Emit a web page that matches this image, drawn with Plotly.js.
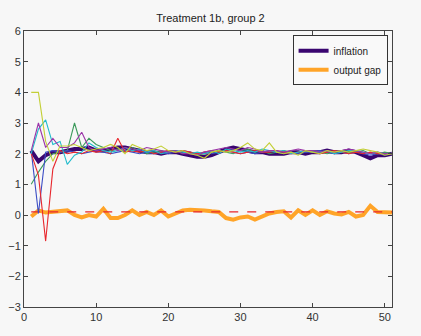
<!DOCTYPE html>
<html>
<head>
<meta charset="utf-8">
<script src="https://cdn.plot.ly/plotly-3.0.1.min.js"></script>
<style>html,body{margin:0;padding:0;background:#f7f7f7;}#chart{width:421px;height:336px;}</style>
</head>
<body>
<div id="chart"></div>
<script>
const periods = Array.from({length: 51}, (_, i) => i + 1);

const inflation = [2.1,1.75,1.95,2.05,2.05,2.1,2.15,2.15,2.2,2.1,2.1,2.15,2.2,2.2,2.15,2.1,2.05,2.05,2.0,2.05,2.05,2.0,1.95,1.9,1.9,1.95,2.05,2.15,2.2,2.15,2.1,2.05,2.05,2.0,2.0,2.0,2.05,2.05,2.0,2.05,2.05,2.1,2.05,2.05,2.1,2.05,1.95,1.85,1.95,1.95,2.0];
const outputGap = [-0.05,0.15,0.08,0.1,0.12,0.15,0.0,-0.08,0.0,-0.05,0.2,-0.1,-0.1,0.0,0.15,0.0,0.1,0.0,0.15,-0.05,0.05,0.15,0.17,0.17,0.15,0.12,0.1,-0.1,-0.15,-0.08,-0.05,-0.15,-0.05,0.05,0.1,0.12,-0.08,0.15,0.0,0.15,0.0,0.12,0.05,0.02,0.1,-0.05,0.0,0.3,0.1,0.08,0.08];

const fcYellow = [4.0,4.0,2.4,1.75,2.25,2.25,2.3,2.2,2.1,2.15,2.2,2.3,2.2,2.0,2.3,2.2,2.1,2.15,2.25,2.1,2.05,2.1,2.0,1.95,1.85,2.05,2.1,2.05,2.1,2.2,2.35,2.15,2.1,2.35,2.05,2.0,2.05,1.95,2.1,2.05,2.0,2.1,2.05,2.1,2.05,2.1,2.15,2.1,2.05,1.95,2.0];
const fcCyan = [2.0,2.8,3.1,2.3,2.4,1.65,1.95,2.05,2.35,2.2,2.1,2.05,2.1,2.2,2.1,2.15,2.05,2.1,2.0,2.05,2.1,2.05,2.0,2.05,2.0,2.1,2.0,2.15,2.1,2.05,2.1,2.05,2.15,2.1,2.05,2.1,2.0,2.05,2.1,2.05,2.05,2.1,2.0,2.05,2.1,2.1,2.05,2.0,2.05,2.0,2.0];
const fcPurple = [2.1,3.0,2.2,2.5,2.2,2.2,2.35,2.7,2.2,2.1,2.15,2.2,2.1,2.2,2.15,2.1,2.2,2.15,2.1,2.05,2.1,2.0,2.0,1.95,2.05,2.1,2.15,2.2,2.15,2.1,2.2,2.15,2.05,2.1,2.1,2.05,2.1,2.15,2.1,2.1,2.05,2.1,2.05,2.1,2.15,2.1,2.05,2.0,2.05,2.0,2.0];
const fcGreen = [1.0,1.4,1.75,2.0,2.05,2.1,3.0,2.2,2.5,2.3,2.2,2.1,2.15,2.05,2.2,2.1,2.0,2.05,2.1,2.05,2.1,2.0,2.05,1.95,2.0,2.05,2.1,2.05,2.0,2.1,2.15,2.05,2.1,2.0,2.05,2.1,2.05,2.0,2.05,2.1,2.05,2.0,2.05,2.1,2.05,2.05,2.1,2.0,2.0,2.05,2.0];
const fcRed = [2.0,1.3,-0.85,1.5,2.1,2.0,2.05,2.0,2.1,2.05,2.1,2.0,2.5,2.05,2.1,2.05,2.1,2.0,2.05,2.1,2.05,2.1,2.05,2.0,2.05,2.1,2.05,2.1,2.05,2.0,2.05,2.1,2.05,2.05,2.1,2.05,2.0,2.05,2.1,2.05,2.0,2.05,2.1,2.05,2.0,2.05,2.0,2.05,2.0,2.0,2.0];
const fcBlue = [2.1,0.05,2.05,2.1,2.05,2.1,2.05,2.0,2.05,2.1,2.05,2.0,2.05,2.1,2.05,2.0,2.05,2.0,2.05,2.0,2.05,2.1,2.05,2.0,2.05,2.0,2.05,2.1,2.05,2.0,2.05,2.0,2.05,2.1,2.05,2.0,2.05,2.0,2.05,2.05,2.1,2.05,2.0,2.05,2.0,2.05,2.0,1.95,2.0,1.95,2.0];

const refX = [1, 51];
const refY = [0.1, 0.1];

const xTicks = [0, 10, 20, 30, 40, 50];
const yTicks = [-3, -2, -1, 0, 1, 2, 3, 4, 5, 6];

const thin = [
  {y: fcGreen, c: '#3c9a5c'},
  {y: fcBlue, c: '#3b4cc4'},
  {y: fcRed, c: '#e8272d'},
  {y: fcCyan, c: '#22bccc'},
  {y: fcPurple, c: '#9b35a8'},
  {y: fcYellow, c: '#c3cf36'}
];

const traces = [
  {x: periods, y: inflation, mode: 'lines', name: 'inflation', line: {color: '#3a0670', width: 4}},
  {x: periods, y: outputGap, mode: 'lines', name: 'output gap', line: {color: '#ffa428', width: 4}},
  {x: refX, y: refY, mode: 'lines', showlegend: false, hoverinfo: 'skip', line: {color: '#e8272d', width: 1.2, dash: 'dash'}}
];
thin.forEach(t => traces.push({x: periods, y: t.y, mode: 'lines', showlegend: false, line: {color: t.c, width: 1.1}}));

const axisCommon = {
  showgrid: false, zeroline: false, showline: true, mirror: 'ticks',
  linecolor: '#444', linewidth: 1, ticks: 'inside', ticklen: 4, tickcolor: '#444',
  tickfont: {family: 'Liberation Sans, Arial, sans-serif', size: 11, color: '#333'}
};

const layout = {
  width: 421, height: 336,
  paper_bgcolor: '#f7f7f7', plot_bgcolor: '#f7f7f7',
  margin: {l: 24, r: 29, t: 31, b: 29},
  title: {text: 'Treatment 1b, group 2', font: {family: 'Liberation Sans, Arial, sans-serif', size: 11, color: '#222'}, x: 0.5, xanchor: 'center', y: 0.945, yanchor: 'middle'},
  xaxis: Object.assign({}, axisCommon, {range: [0, 51], tickvals: xTicks}),
  yaxis: Object.assign({}, axisCommon, {range: [-3, 6], tickvals: yTicks}),
  showlegend: true,
  legend: {x: 0.988, xanchor: 'right', y: 0.985, yanchor: 'top', bgcolor: '#f9f9f9', bordercolor: '#333', borderwidth: 1,
           font: {family: 'Liberation Sans, Arial, sans-serif', size: 10, color: '#222'}, tracegroupgap: 0, itemwidth: 30}
};

Plotly.newPlot('chart', traces, layout, {displayModeBar: false, staticPlot: true});
</script>
</body>
</html>
